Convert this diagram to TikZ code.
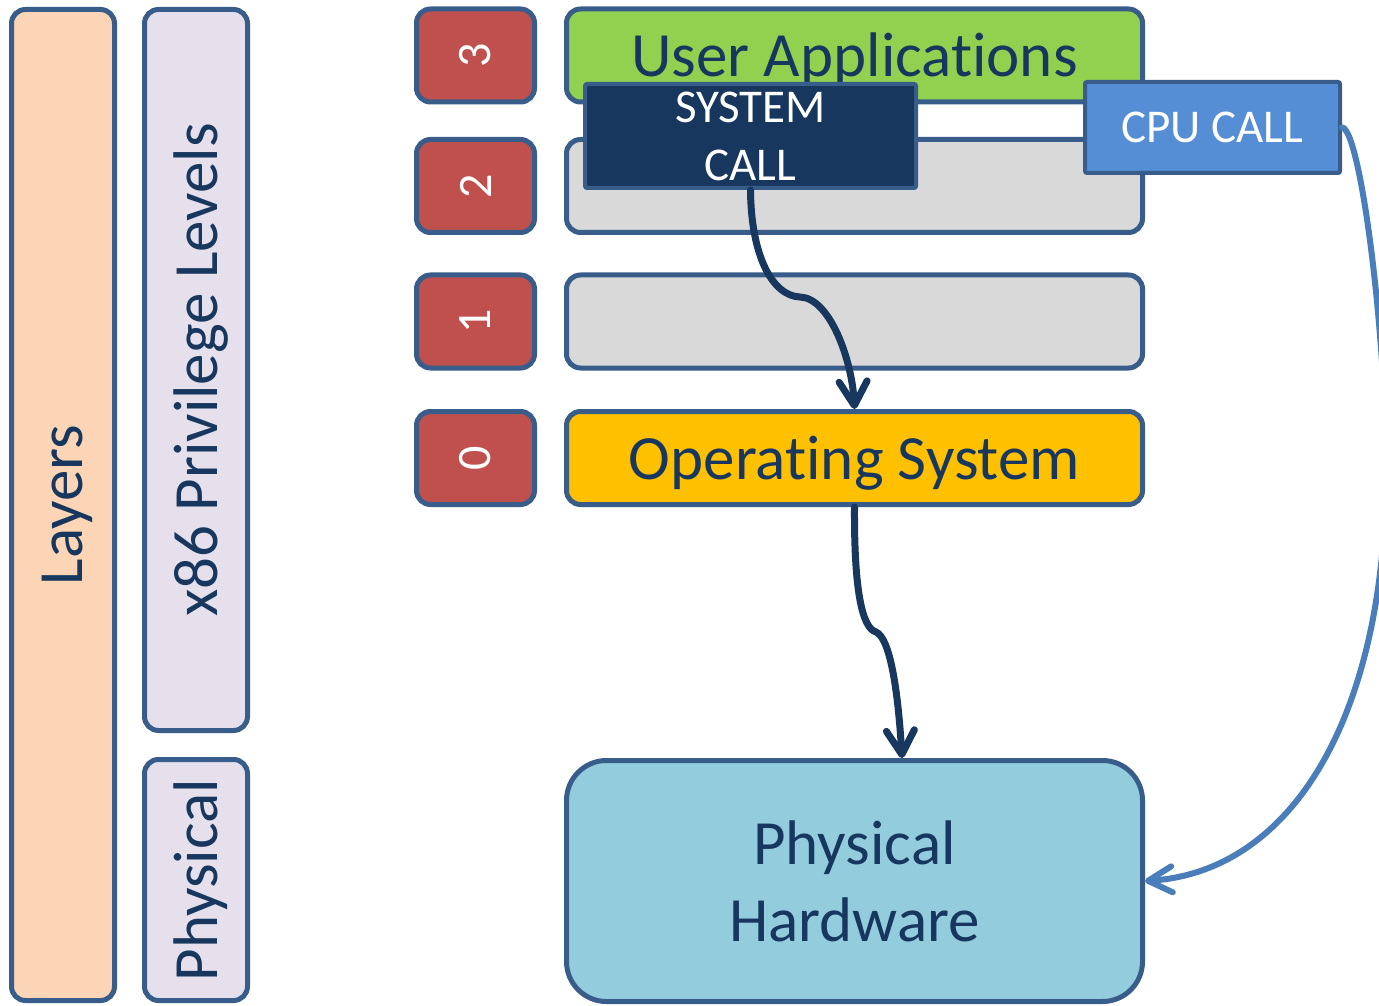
\documentclass[tikz,border=0pt]{standalone}
\usepackage{fontspec}
\setmainfont{Carlito}[Ligatures={NoCommon}]
\usetikzlibrary{arrows.meta,calc}

\definecolor{edge}{HTML}{385D8A}
\definecolor{ink}{HTML}{17375E}
\definecolor{peach}{HTML}{FBD5B5}
\definecolor{lavender}{HTML}{E5E0EC}
\definecolor{ringred}{HTML}{C0504D}
\definecolor{appgreen}{HTML}{92D050}
\definecolor{ringgray}{HTML}{D9D9D9}
\definecolor{osgold}{HTML}{FFC000}
\definecolor{hwblue}{HTML}{93CDDD}
\definecolor{callnavy}{HTML}{17375E}
\definecolor{cpublue}{HTML}{558ED5}
\definecolor{cpuline}{HTML}{4A7EBB}

\tikzset{
  panel/.style={draw=edge, line width=2.5pt, rounded corners=7pt, inner sep=0pt,
    text=ink, font=\fontsize{31.5}{38.5}\selectfont},
  sidebar/.style={panel, rotate=90, minimum height=51.5pt, text depth=0.04em},
  ringnum/.style={panel, rotate=90, fill=ringred, text=white,
    minimum width=46.5pt, minimum height=59pt,
    font=\fontsize{24}{28}\selectfont},
  ringrow/.style={panel, minimum width=288pt, minimum height=46.5pt, text depth=0.04em},
  callbox/.style={draw=edge, line width=2pt, rounded corners=1pt, inner sep=0pt,
    text=white, align=center, font=\fontsize{23.5}{29}\selectfont},
  flow/.style={draw=callnavy, line width=3.5pt, line cap=round,
    -{Straight Barb[length=12pt,width=14pt,round]}},
  cpuflow/.style={draw=cpuline, line width=3pt, line cap=round,
    -{Straight Barb[length=12pt,width=13pt,round]}},
}

\begin{document}
\begin{tikzpicture}[x=0.5pt,y=-0.5pt]
\clip (0,0) rectangle (1379,1005);
\fill[white] (0,0) rectangle (1379,1005);

% left-hand columns
\node[sidebar, fill=peach, minimum width=495.5pt] (layers) at (63,505) {Layers};
\node[sidebar, fill=lavender, minimum width=360.5pt] (x86) at (196,370) {x86 Privilege Levels};
\node[sidebar, fill=lavender, minimum width=120.5pt] (phys) at (196,880) {Physical};

% ring numbers
\node[ringnum] (r3) at (475.5,55.5) {3};
\node[ringnum] (r2) at (475.5,186) {2};
\node[ringnum] (r1) at (475.5,321.5) {1};
\node[ringnum] (r0) at (475.5,458) {0};

% ring contents
\node[ringrow, fill=appgreen] (apps) at (854.5,55.5) {User Applications};
\node[ringrow, fill=ringgray] (ring2) at (854.5,186) {};
\node[ringrow, fill=ringgray] (ring1) at (854.5,321.5) {};
\node[ringrow, fill=osgold] (os) at (854.5,458) {Operating System};

% hardware
\node[panel, fill=hwblue, rounded corners=20pt, align=center,
  minimum width=288pt, minimum height=120.5pt] (hw) at (854.5,881) {Physical\\Hardware};

% call boxes
\node[callbox, fill=callnavy, minimum width=165.5pt, minimum height=52pt] (sys) at (750.5,136) {SYSTEM\\CALL};
\node[callbox, fill=cpublue, minimum width=127.5pt, minimum height=45.5pt] (cpu) at (1212.5,127.5) {CPU CALL};

% connectors
\coordinate (k1) at (800,297);
\coordinate (k2) at (876,632);
\coordinate (k3) at (1386,470);
\draw[flow] (sys.south) .. controls (751,255) and (772,296) .. (k1)
  .. controls (830,298) and (852,360) .. (os.north);
\draw[flow] (os.south) .. controls (854,590) and (862,628) .. (k2)
  .. controls (890,638) and (898,690) .. ($(hw.north)+(47.5,0)$);
\draw[cpuflow] (cpu.east) .. controls (1360,128) and (1386,330) .. (k3)
  .. controls (1386,720) and (1290,872) .. (hw.east);
\end{tikzpicture}
\end{document}
